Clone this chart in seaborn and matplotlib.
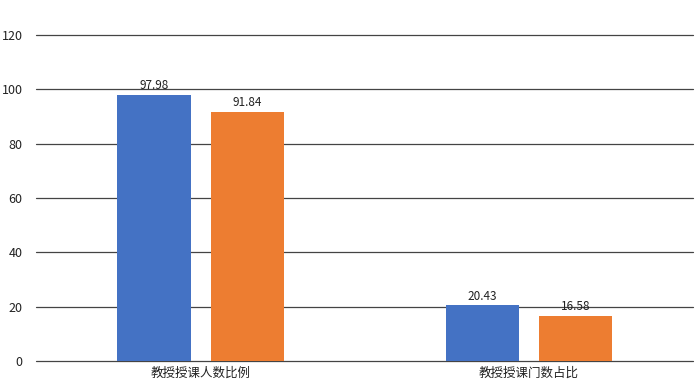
import matplotlib as mpl
import matplotlib.pyplot as plt
import seaborn as sns
import pandas as pd

CATEGORIES = ["教授授课人数比例", "教授授课门数占比"]
SERIES = ["系列1", "系列2"]
VALUES_1 = [97.98, 20.43]
VALUES_2 = [91.84, 16.58]
COLORS = ["#4472C4", "#ED7D31"]

sns.set_style("white")
plt.rcParams["font.family"] = ["Noto Sans CJK SC", "DejaVu Sans"]

df = pd.DataFrame({
    "category": CATEGORIES * 2,
    "series": [SERIES[0]] * 2 + [SERIES[1]] * 2,
    "value": VALUES_1 + VALUES_2,
})

fig = plt.figure(figsize=(7, 3.89), dpi=100)
ax = fig.add_axes([0.052, 0.072, 0.938, 0.838])

sns.barplot(data=df, x="category", y="value", hue="series", palette=COLORS,
            saturation=1, linewidth=0, width=0.568, gap=0.215,
            legend=False, ax=ax, zorder=3)

for cont in ax.containers:
    ax.bar_label(cont, fmt="%.2f", padding=2, fontsize=8.5, color="#222222")

ax.set_ylim(0, 120)
ax.set_yticks(range(0, 121, 20))
ax.yaxis.grid(True, color="#444444", linewidth=0.9, zorder=0)
for line in ax.get_ygridlines():
    line.set_clip_on(False)
ax.set_axisbelow(True)
for s in ax.spines.values():
    s.set_visible(False)
ax.tick_params(axis="both", length=0, labelsize=9, colors="#222222")
ax.tick_params(axis="y", pad=10)
ax.tick_params(axis="x", pad=4)
ax.set_xlabel("")
ax.set_ylabel("")

plt.savefig("out.png", dpi=100)
plt.close()
